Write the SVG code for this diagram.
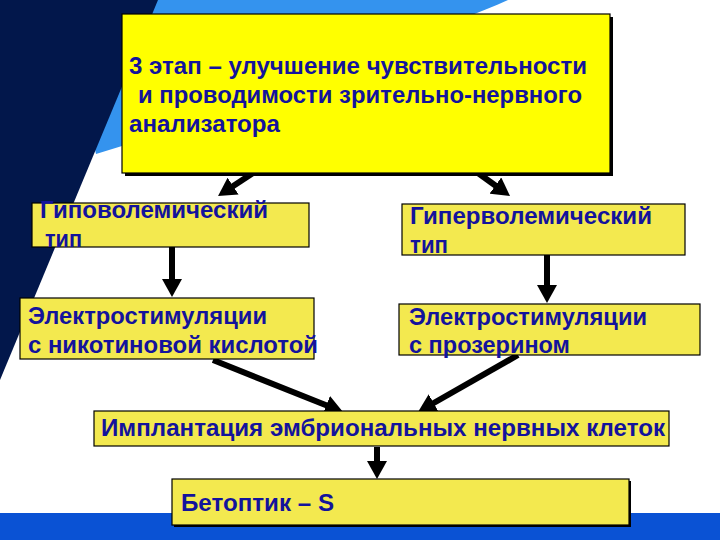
<svg xmlns="http://www.w3.org/2000/svg" width="720" height="540" viewBox="0 0 720 540">
<style>
.t{font-family:"Liberation Sans",Arial,sans-serif;font-weight:bold;font-size:23px;fill:#13139c}
.b{fill:#f3e94f;stroke:#000;stroke-width:1.2}
.c{stroke:#000;stroke-width:6;fill:none}
</style>
<defs>
<marker id="ah" markerUnits="userSpaceOnUse" markerWidth="18" markerHeight="20" viewBox="0 0 18 20" refX="8" refY="10" orient="auto">
<path d="M0,0 L18,10 L0,20 Z" fill="#000"/>
</marker>
</defs>
<rect width="720" height="540" fill="#fff"/>
<g id="background">
<path d="M140,0 L508,0 C430,36 260,80 122,146 L96,154 L60,0 Z" fill="#3493ee"/>
<polygon points="0,0 158,0 0,380" fill="#02174b"/>
<rect x="0" y="513" width="720" height="27" fill="#0a52d4"/>
</g>
<g id="connectors">
<line class="c" x1="253" y1="173" x2="226.4" y2="190.5" marker-end="url(#ah)"/>
<line class="c" x1="478" y1="173" x2="501.9" y2="190.2" marker-end="url(#ah)"/>
<line class="c" x1="172" y1="247" x2="172" y2="287" marker-end="url(#ah)"/>
<line class="c" x1="547" y1="255" x2="547" y2="293" marker-end="url(#ah)"/>
<line class="c" x1="213" y1="360" x2="333.7" y2="408.3" marker-end="url(#ah)"/>
<line class="c" x1="518" y1="355" x2="426.7" y2="407" marker-end="url(#ah)"/>
<line class="c" x1="377" y1="447" x2="377" y2="469" marker-end="url(#ah)"/>
</g>
<g id="main">
<rect x="125" y="17" width="488" height="159" fill="#000"/>
<rect x="122" y="14" width="488" height="159" fill="#ffff00" stroke="#000" stroke-width="1.2"/>
<text class="t" x="129" y="74" textLength="458" lengthAdjust="spacingAndGlyphs">3 этап – улучшение чувствительности</text>
<text class="t" x="138" y="103" textLength="444" lengthAdjust="spacingAndGlyphs">и проводимости зрительно-нервного</text>
<text class="t" x="129" y="132" textLength="151" lengthAdjust="spacingAndGlyphs">анализатора</text>
</g>
<g id="hypo">
<rect class="b" x="32" y="203" width="277" height="44"/>
<text class="t" x="40" y="218" textLength="228" lengthAdjust="spacingAndGlyphs">Гиповолемический</text>
<text class="t" x="45" y="247" textLength="37" lengthAdjust="spacingAndGlyphs">тип</text>
</g>
<g id="hyper">
<rect class="b" x="402" y="204" width="283" height="51"/>
<text class="t" x="410" y="224" textLength="242" lengthAdjust="spacingAndGlyphs">Гиперволемический</text>
<text class="t" x="410" y="253" textLength="38" lengthAdjust="spacingAndGlyphs">тип</text>
</g>
<g id="stim-left">
<rect class="b" x="20" y="298" width="294" height="61"/>
<text class="t" x="28" y="324" textLength="239" lengthAdjust="spacingAndGlyphs">Электростимуляции</text>
<text class="t" x="28" y="353" textLength="290" lengthAdjust="spacingAndGlyphs">с никотиновой кислотой</text>
</g>
<g id="stim-right">
<rect class="b" x="399" y="304" width="301" height="51"/>
<text class="t" x="409" y="325" textLength="238" lengthAdjust="spacingAndGlyphs">Электростимуляции</text>
<text class="t" x="409" y="353" textLength="161" lengthAdjust="spacingAndGlyphs">с прозерином</text>
</g>
<g id="implant">
<rect class="b" x="94" y="411" width="575" height="35"/>
<text class="t" x="101" y="436" textLength="564" lengthAdjust="spacingAndGlyphs">Имплантация эмбриональных нервных клеток</text>
</g>
<g id="betoptik">
<rect x="174" y="481" width="457" height="46" fill="#000"/>
<rect class="b" x="172" y="479" width="457" height="46"/>
<text class="t" x="181" y="511" textLength="153" lengthAdjust="spacingAndGlyphs">Бетоптик – S</text>
</g>
</svg>
